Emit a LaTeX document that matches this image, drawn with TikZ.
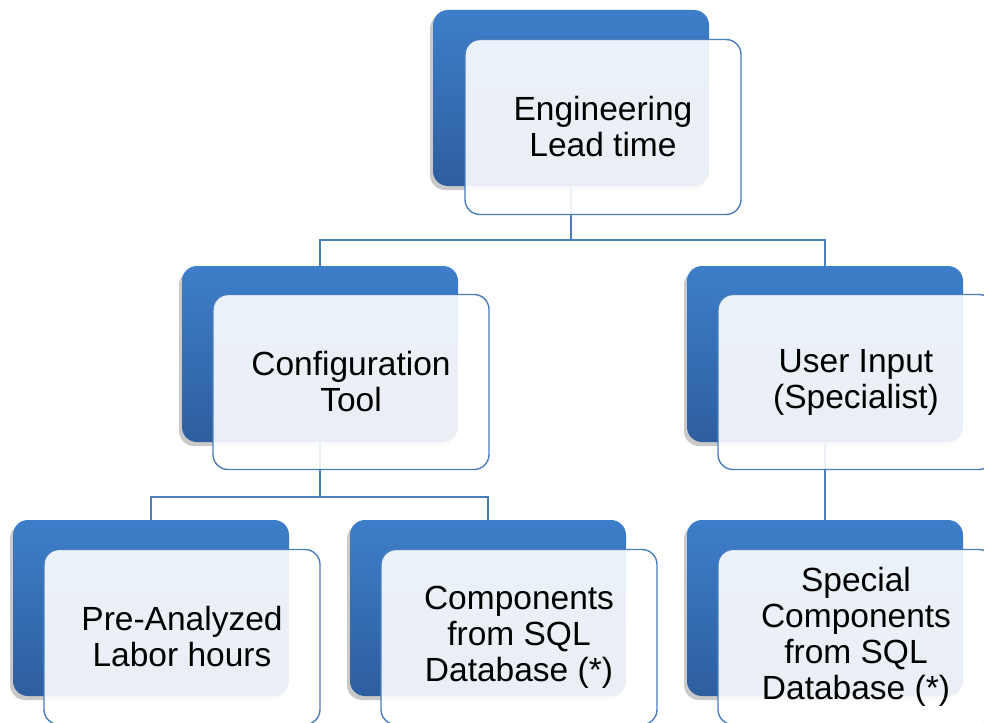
\documentclass[tikz,border=0pt]{standalone}
\usepackage{fontspec}
\setmainfont{Liberation Sans}
\usetikzlibrary{shadows,calc}
\definecolor{boxtop}{RGB}{61,126,202}
\definecolor{boxbot}{RGB}{46,94,158}
\definecolor{edgeblue}{RGB}{74,126,187}
\tikzset{
  backbox/.style={rectangle, rounded corners=15pt, minimum width=276pt, minimum height=176pt,
    top color=boxtop, bottom color=boxbot, draw=none,
    drop shadow={shadow xshift=-3pt, shadow yshift=-4pt, opacity=0.35, fill=black!60}},
  frontbox/.style={rectangle, rounded corners=15pt, minimum width=276pt, minimum height=175pt,
    draw=edgeblue, line width=1.4pt, fill=white, fill opacity=0.9, text opacity=1,
    align=center, font=\fontsize{33.5}{36}\selectfont, inner sep=0pt},
  conn/.style={draw=edgeblue, line width=1.5pt}
}
\begin{document}
\begin{tikzpicture}[x=1pt,y=-1pt]
\clip (0,0) rectangle (984,722);
\fill[white] (0,0) rectangle (984,722);
% back boxes
\node[backbox] (b1) at (571,98) {};
\node[backbox] (b2) at (320,354) {};
\node[backbox] (b3) at (825,354) {};
\node[backbox] (b4) at (151,608) {};
\node[backbox] (b5) at (488,608) {};
\node[backbox] (b6) at (825,608) {};
% connector junctions
\coordinate (j1) at ($(b1.south)+(0,54)$);
\coordinate (j2) at ($(b2.south)+(0,55)$);
% connectors
\draw[conn] (b1.south) -- (j1) -| (b2.north);
\draw[conn] (j1) -| (b3.north);
\draw[conn] (b2.south) -- (j2) -| (b4.north);
\draw[conn] (j2) -| (b5.north);
\draw[conn] (b3.south) -- (b6.north);
% front boxes
\node[frontbox] (f1) at ($(b1)+(32,29)$) {Engineering\\Lead time};
\node[frontbox] (f2) at ($(b2)+(31,28)$) {Configuration\\Tool};
\node[frontbox] (f3) at ($(b3)+(31,28)$) {User Input\\(Specialist)};
\node[frontbox] (f4) at ($(b4)+(31,29)$) {Pre-Analyzed\\Labor hours};
\node[frontbox] (f5) at ($(b5)+(31,29)$) {Components\\from SQL\\Database (*)};
\node[frontbox] (f6) at ($(b6)+(31,29)$) {Special\\Components\\from SQL\\Database (*)};
\end{tikzpicture}
\end{document}
